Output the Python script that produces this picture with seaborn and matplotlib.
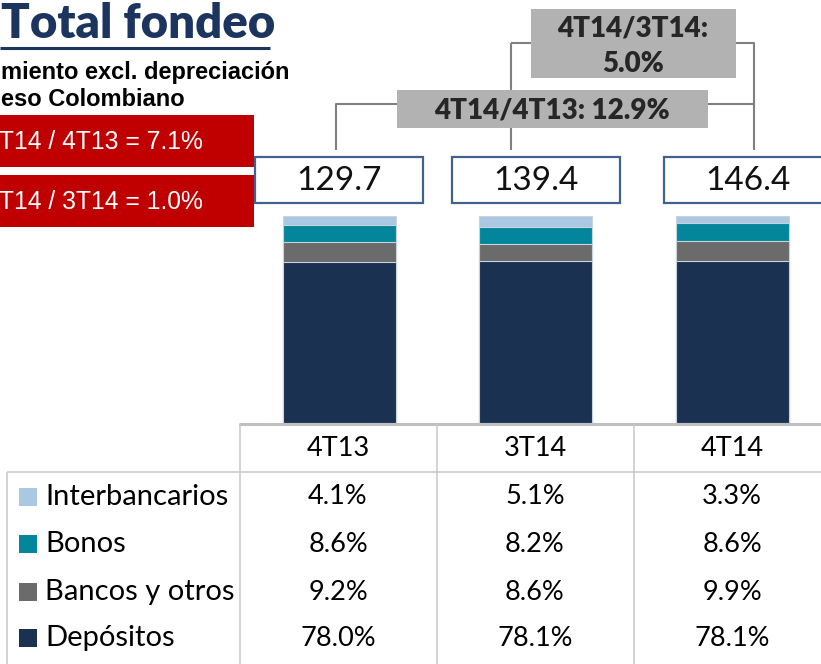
import matplotlib.pyplot as plt
import matplotlib.patches as mpatches
import pandas as pd
import seaborn as sns

# ---------------------------------------------------------------- data
periods = ["4T13", "3T14", "4T14"]
segments = ["Interbancarios", "Bonos", "Bancos y otros", "Depósitos"]
interbancarios = [4.1, 5.1, 3.3]
bonos = [8.6, 8.2, 8.6]
bancos = [9.2, 8.6, 9.9]
depositos = [78.0, 78.1, 78.1]
totals = [129.7, 139.4, 146.4]
# slide is cropped on the left, only the visible part of these texts is kept
subtitle = ["miento excl. depreciación", "eso Colombiano"]
growth_notes = ["T14 / 4T13 = 7.1%", "T14 / 3T14 = 1.0%"]
bracket_long = "4T14/4T13: 12.9%"
bracket_short = ["4T14/3T14:", "5.0%"]

colors = {"Interbancarios": "#aac8e2", "Bonos": "#03869b",
          "Bancos y otros": "#6b6b6b", "Depósitos": "#1b3152"}
navy = "#1c355e"

sns.set_theme(style="white")
plt.rcParams["font.family"] = ["Lato", "DejaVu Sans"]

W, H = 821, 664
fig = plt.figure(figsize=(W / 100, H / 100), dpi=100)

# ---------------------------------------------------------------- stacked bars
ax = fig.add_axes([241.4 / W, (H - 423) / H, 588.75 / W, 207 / H])
df = pd.DataFrame({"period": periods, "Depósitos": depositos, "Bancos y otros": bancos,
                   "Bonos": bonos, "Interbancarios": interbancarios})
cum = df[["Depósitos", "Bancos y otros", "Bonos", "Interbancarios"]].cumsum(axis=1)
for seg in segments:  # top segment first, lower ones drawn over it
    sns.barplot(x=df["period"], y=cum[seg], color=colors[seg], saturation=1,
                width=0.576, edgecolor="#c9d3de", linewidth=0.8, ax=ax)
ax.set_xlim(-0.5, 2.5)
ax.set_ylim(0, 100)
ax.axis("off")

# ---------------------------------------------------------------- overlay in pixel coords
ov = fig.add_axes([0, 0, 1, 1])
ov.set_xlim(0, W)
ov.set_ylim(H, 0)
ov.axis("off")

ov.text(1, 38, "Total fondeo", fontsize=34, fontweight="heavy", color=navy, va="baseline")
ov.plot([0, 270], [48, 48], color=navy, lw=2.2, solid_capstyle="butt")

ov.text(1, 72, subtitle[0], fontsize=17, fontweight="bold",
        color="black", va="center", family="Liberation Sans")
ov.text(1, 100, subtitle[1], fontsize=17, fontweight="bold",
        color="black", va="center", family="Liberation Sans")

for i, note in enumerate(growth_notes):
    y0 = 115 + i * 60
    ov.add_patch(mpatches.Rectangle((0, y0), 254, 52, color="#c00000", lw=0))
    ov.text(203, y0 + 27, note, fontsize=17.7, color="white", ha="right", va="center",
            family="Liberation Sans")

# connectors
lc = dict(color="#808080", lw=1.5, zorder=1, solid_capstyle="butt")
ov.plot([336, 336, 754], [150, 104, 104], **lc)
ov.plot([511, 511], [150, 43], **lc)
ov.plot([511, 754, 754], [43, 43, 150], **lc)

ov.add_patch(mpatches.Rectangle((531, 9), 205, 69, color="#b2b2b2", lw=0, zorder=2))
ov.text(633, 28, bracket_short[0], fontsize=20, fontweight="heavy", color="#262626",
        ha="center", va="center", zorder=3)
ov.text(633, 64, bracket_short[1], fontsize=20, fontweight="heavy", color="#262626",
        ha="center", va="center", zorder=3)
ov.add_patch(mpatches.Rectangle((397, 90), 311, 38, color="#b2b2b2", lw=0, zorder=2))
ov.text(552, 110, bracket_long, fontsize=20, fontweight="heavy", color="#262626",
        ha="center", va="center", zorder=3)

# total boxes
box_left = [255, 452, 664]
for x0, t in zip(box_left, totals):
    ov.add_patch(mpatches.Rectangle((x0, 157), 168, 46, facecolor="white",
                                    edgecolor="#41628f", lw=1.6, zorder=2))
    ov.text(x0 + 84, 181, f"{t:.1f}", fontsize=24, color="#111111",
            ha="center", va="center", zorder=3)

# ---------------------------------------------------------------- table
grid = dict(color="#c8c8c8", lw=1.1, solid_capstyle="butt")
ov.plot([240, W], [424, 424], color="#bfbfbf", lw=2.2)
for x in [240, 437, 634]:
    ov.plot([x, x], [424, H], **grid)
ov.plot([7, W], [472, 472], **grid)
ov.plot([7, 7], [472, H], **grid)

col_x = [338, 535, 732]
for cx, p in zip(col_x, periods):
    ov.text(cx, 449, p, fontsize=19.5, color="black", ha="center", va="center")

row_y = [497, 544, 592, 638]
row_vals = [interbancarios, bonos, bancos, depositos]
for ry, seg, vals in zip(row_y, segments, row_vals):
    ov.add_patch(mpatches.Rectangle((19, ry - 9), 18, 18, color=colors[seg], lw=0))
    ov.text(45, ry, seg, fontsize=21, color="black", ha="left", va="center")
    for cx, v in zip(col_x, vals):
        ov.text(cx, ry, f"{v:.1f}%", fontsize=19.5, color="black", ha="center", va="center")

fig.savefig("out.png", dpi=100)
